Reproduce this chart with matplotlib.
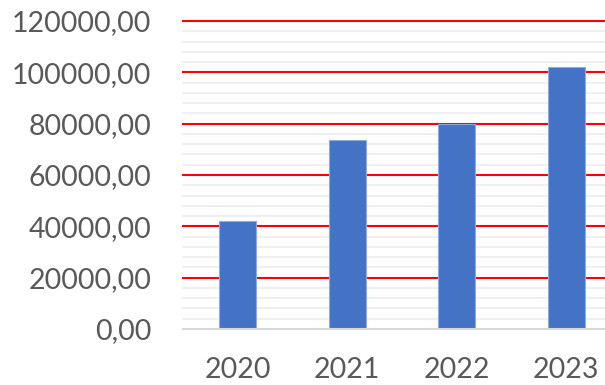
import matplotlib
matplotlib.use("Agg")
import matplotlib.pyplot as plt
from matplotlib.ticker import MultipleLocator, FuncFormatter

years = ["2020", "2021", "2022", "2023"]
values = [42000, 73600, 79900, 102000]
y_ticks = [0, 20000, 40000, 60000, 80000, 100000, 120000]

plt.rcParams["font.family"] = ["Lato", "DejaVu Sans"]

fig = plt.figure(figsize=(6.05, 3.85), dpi=100)
# plot area runs slightly past the right edge of the canvas
ax = fig.add_axes([183 / 605, 1 - 329 / 385, 438 / 605, 308 / 385])

x = range(len(years))
ax.bar(x, values, width=0.34, color="#4472C4", edgecolor="#8FAADC",
       linewidth=0.8, zorder=3)

ax.set_xlim(-0.5, 3.5)
ax.set_ylim(0, 120000)
ax.set_yticks(y_ticks)
ax.yaxis.set_minor_locator(MultipleLocator(4000))
ax.yaxis.set_major_formatter(FuncFormatter(lambda v, p: f"{v:.2f}".replace(".", ",")))
ax.set_xticks(list(x))
ax.set_xticklabels(years)

ax.grid(which="minor", axis="y", color="#F0F0F0", linewidth=1.5, zorder=1)
ax.grid(which="major", axis="y", color="#FF0000", linewidth=1.5, zorder=2)
for t in ax.yaxis.get_major_ticks() + ax.yaxis.get_minor_ticks():
    t.gridline.set_clip_on(False)
# the baseline is drawn by the bottom spine instead of a red gridline
ax.yaxis.get_major_ticks()[0].gridline.set_visible(False)

for s in ["top", "right", "left"]:
    ax.spines[s].set_visible(False)
ax.spines["bottom"].set_color("#D9D9D9")
ax.spines["bottom"].set_linewidth(1.5)
ax.spines["bottom"].set_zorder(4)

ax.tick_params(axis="both", which="both", length=0, labelsize=20.5, labelcolor="#595959")
ax.tick_params(axis="y", pad=23)
ax.tick_params(axis="x", pad=20)

fig.savefig("out.png", dpi=100)
